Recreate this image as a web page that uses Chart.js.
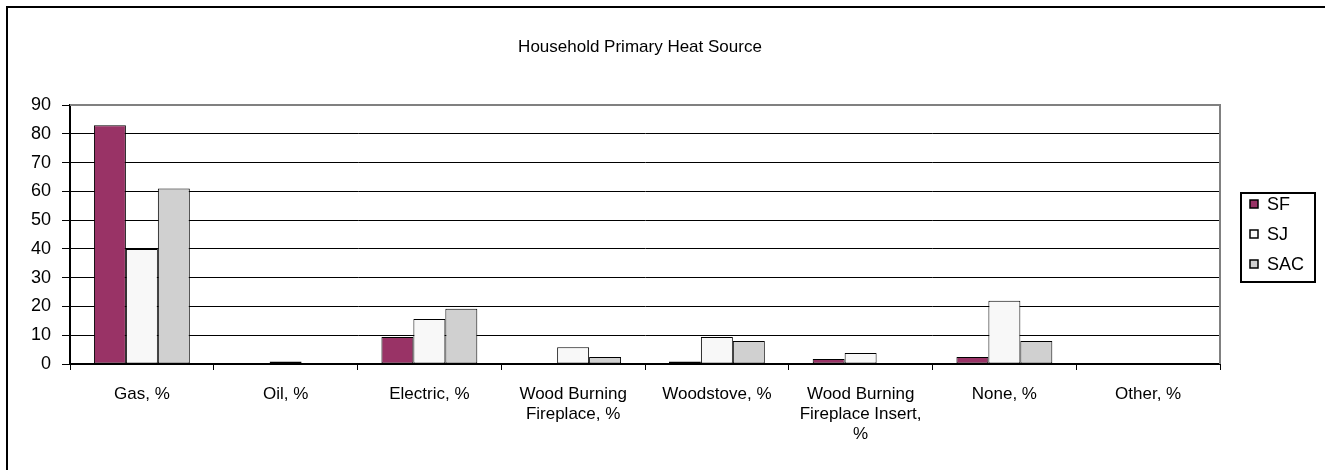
<!DOCTYPE html>
<html>
<head>
<meta charset="utf-8">
<script src="https://cdn.jsdelivr.net/npm/chart.js@4/dist/chart.umd.min.js"></script>
<style>
  html, body { margin: 0; padding: 0; background: #fff; }
  #wrap { width: 1325px; height: 470px; position: relative; }
</style>
</head>
<body>
<div id="wrap"><canvas id="c" width="1325" height="470"></canvas></div>
<script>
const title = 'Household Primary Heat Source';
const categories = [
  'Gas, %',
  'Oil, %',
  'Electric, %',
  ['Wood Burning', 'Fireplace, %'],
  'Woodstove, %',
  ['Wood Burning', 'Fireplace Insert,', '%'],
  'None, %',
  'Other, %'
];
const seriesNames = ['SF', 'SJ', 'SAC'];
const sfValues  = [83, 0,   9.4, 0.3, 0.9, 1.7, 2.4, 0.3];
const sjValues  = [40, 0.9, 15.6, 5.8, 9.4, 3.8, 22,  0.3];
const sacValues = [61, 0.3, 19.2, 2.4, 8,   0.3, 8,   0.3];
const yTicks = [0, 10, 20, 30, 40, 50, 60, 70, 80, 90];

const colors = ['#993366', '#F8F8F8', '#D0D0D0'];
const FONT = 'Liberation Sans, Arial, sans-serif';

const decor = {
  id: 'decor',
  afterDraw(chart) {
    const ctx = chart.ctx;
    const a = chart.chartArea;
    ctx.save();
    ctx.strokeStyle = '#000';
    ctx.lineWidth = 2;
    ctx.beginPath();
    ctx.moveTo(7, 480); ctx.lineTo(7, 7); ctx.lineTo(1340, 7);
    ctx.stroke();
    ctx.strokeStyle = '#808080';
    ctx.lineWidth = 2;
    ctx.beginPath();
    ctx.moveTo(a.left, a.top); ctx.lineTo(a.right, a.top); ctx.lineTo(a.right, a.bottom);
    ctx.stroke();
    ctx.fillStyle = '#000';
    ctx.font = '17px ' + FONT;
    ctx.textAlign = 'center';
    ctx.textBaseline = 'middle';
    ctx.fillText(title, 640, 47);
    const lx = 1241, ly = 193, lw = 74, lh = 89;
    ctx.strokeStyle = '#000';
    ctx.lineWidth = 2;
    ctx.strokeRect(lx, ly, lw, lh);
    ctx.textAlign = 'left';
    chart.data.datasets.forEach((ds, i) => {
      const y = 204 + i * 30;
      ctx.fillStyle = ds.backgroundColor;
      ctx.fillRect(lx + 9, y - 4, 8, 8);
      ctx.strokeStyle = '#000';
      ctx.lineWidth = 1.5;
      ctx.strokeRect(lx + 9, y - 4, 8, 8);
      ctx.fillStyle = '#000';
      ctx.font = '18px ' + FONT;
      ctx.fillText(ds.label, lx + 26, y + 1);
    });
    ctx.restore();
  }
};

new Chart(document.getElementById('c'), {
  type: 'bar',
  data: {
    labels: categories,
    datasets: [sfValues, sjValues, sacValues].map((vals, i) => ({
      label: seriesNames[i],
      data: vals,
      backgroundColor: colors[i],
      borderColor: '#000',
      borderWidth: 1,
      borderSkipped: false,
      categoryPercentage: 0.667,
      barPercentage: 1.0
    }))
  },
  options: {
    responsive: false,
    animation: false,
    devicePixelRatio: 1,
    layout: { padding: { left: 0, top: 105, right: 105, bottom: 0 } },
    plugins: { legend: { display: false }, title: { display: false }, tooltip: { enabled: false } },
    scales: {
      x: {
        grid: { offset: true, drawOnChartArea: false, drawTicks: true, tickLength: 6, color: '#000', lineWidth: 1 },
        border: { color: '#000', width: 2 },
        ticks: { color: '#000', font: { family: FONT, size: 17, lineHeight: 1.15 }, maxRotation: 0, autoSkip: false, padding: 15 },
        afterFit(scale) { scale.height = 106; }
      },
      y: {
        min: 0, max: 90,
        afterBuildTicks(scale) { scale.ticks = yTicks.map(v => ({ value: v })); },
        grid: { color: '#000', lineWidth: 1, drawTicks: true, tickLength: 8 },
        border: { color: '#000', width: 2 },
        ticks: { color: '#000', font: { family: FONT, size: 18 }, padding: 11 },
        afterFit(scale) { scale.width = 70; }
      }
    }
  },
  plugins: [decor]
});
</script>
</body>
</html>
